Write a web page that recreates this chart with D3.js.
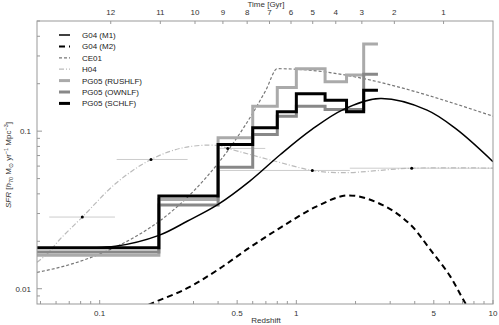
<!DOCTYPE html>
<html><head><meta charset="utf-8">
<script src="https://cdn.jsdelivr.net/npm/d3@7/dist/d3.min.js"></script>
<style>
body{margin:0;background:#fff;}
svg{display:block;font-family:"Liberation Sans",Arial,sans-serif;}
</style></head>
<body><svg id="c" width="499" height="325"></svg>
<script>
// ---------- data ----------
const binEdges = [0.01, 0.2, 0.4, 0.6, 0.8, 1.0, 1.4, 1.8, 2.2, 2.6];
const sfrRUSHLF = [0.0163, 0.0369, 0.0908, 0.144, 0.189, 0.249, 0.206, 0.227, 0.357];
const sfrOWNLF  = [0.0171, 0.0340, 0.0591, 0.0953, 0.1245, 0.144, 0.137, 0.137, 0.230];
const sfrSCHLF  = [0.0182, 0.0387, 0.0823, 0.105, 0.133, 0.173, 0.157, 0.133, 0.182];

const m1Z   = [0.048, 0.12, 0.2, 0.28, 0.4, 0.58, 0.83, 1.2, 1.73, 2.67, 4.62, 6.54, 10];
const m1SFR = [0.0182, 0.0186, 0.0218, 0.0269, 0.0343, 0.0482, 0.0711, 0.1025, 0.137, 0.161, 0.136, 0.1025, 0.064];

const m2Z   = [0.143, 0.184, 0.277, 0.394, 0.581, 0.856, 1.27, 1.83, 2.77, 3.79, 4.79, 6.05, 7.21, 8.11];
const m2SFR = [0.00704, 0.00807, 0.01004, 0.01306, 0.0183, 0.0250, 0.0333, 0.0391, 0.0338, 0.0256, 0.01776, 0.01202, 0.00815, 0.00657];

const ceZ   = [0.048, 0.07, 0.1, 0.15, 0.2, 0.3, 0.4, 0.5, 0.6, 0.7, 0.8, 10];
const ceSFR = [0.0127, 0.0142, 0.0166, 0.0212, 0.0267, 0.0416, 0.0625, 0.0912, 0.130, 0.182, 0.249, 0.1245];

const h04Z   = [0.048, 0.0548, 0.0628, 0.0816, 0.122, 0.1824, 0.266, 0.394, 0.448, 0.581, 0.836, 1.206, 1.734, 3.86, 10.5];
const h04SFR = [0.0147, 0.0169, 0.0206, 0.0285, 0.0471, 0.0661, 0.0785, 0.0812, 0.0777, 0.0711, 0.0630, 0.0563, 0.0545, 0.0582, 0.0582];

const ptZ    = [0.0816, 0.1824, 0.448, 1.206, 3.86];
const ptSFR  = [0.0285, 0.0661, 0.0777, 0.0563, 0.0582];
const ptZlo  = [0.0554, 0.122, 0.394, 0.394, 1.87];
const ptZhi  = [0.1196, 0.28, 0.695, 1.87, 12];

const xMajor = [0.1, 0.5, 1, 5, 10];
const xMajorLabels = ["0.1", "0.5", "1", "5", "10"];
const xMinor = [0.05,0.06,0.07,0.08,0.09,0.2,0.3,0.4,0.6,0.7,0.8,0.9,2,3,4,6,7,8,9];
const yMajor = [0.01, 0.1];
const yMajorLabels = ["0.01", "0.1"];
const yMinor = [0.009,0.02,0.03,0.04,0.05,0.06,0.07,0.08,0.09,0.2,0.3,0.4,0.5];
const ageTicks = [12, 11, 10, 9, 8, 7, 6, 5, 4, 3, 2, 1];

const legendLabels = ["G04 (M1)", "G04 (M2)", "CE01", "H04", "PG05 (RUSHLF)", "PG05 (OWNLF)", "PG05 (SCHLF)"];

// ---------- layout ----------
const svg = d3.select("#c");
const L = 37, R = 493, T = 21, B = 304;
const x = d3.scaleLog().domain([0.048, 10]).range([L, R]);
const y = d3.scaleLog().domain([0.008, 0.5]).range([B, T]);

// cosmic age -> redshift (flat LCDM, h=0.7, Om=0.3)
const tau = 2 * (977.8 / 70) / (3 * Math.sqrt(0.7));
const kk = Math.sqrt(0.7 / 0.3);
const ageToZ = t => Math.pow(kk / Math.sinh(t / tau), 2 / 3) - 1;

const styles = [
  {stroke:"#000", w:1.5, dash:null},
  {stroke:"#000", w:2, dash:"6,4"},
  {stroke:"#777", w:1.2, dash:"3,2"},
  {stroke:"#bbb", w:1.2, dash:"5,2,1,2"},
  {stroke:"#aaa", w:3, dash:null},
  {stroke:"#888", w:3, dash:null},
  {stroke:"#000", w:3, dash:null}
];

svg.append("defs").append("clipPath").attr("id","clip")
  .append("rect").attr("x",L).attr("y",T).attr("width",R-L).attr("height",B-T);

const g = svg.append("g").attr("clip-path","url(#clip)");

const smooth = d3.line().x(d=>x(d[0])).y(d=>y(d[1])).curve(d3.curveCatmullRom.alpha(0.5));
const step = d3.line().x(d=>x(d[0])).y(d=>y(d[1])).curve(d3.curveStepAfter);

function draw(path, data, st){
  g.append("path").attr("d", path(data)).attr("fill","none")
   .attr("stroke", st.stroke).attr("stroke-width", st.w)
   .attr("stroke-dasharray", st.dash).attr("stroke-linejoin","miter");
}

// H04 error bars
ptZ.forEach((z,i)=>{
  g.append("line").attr("x1",x(ptZlo[i])).attr("x2",x(ptZhi[i]))
   .attr("y1",y(ptSFR[i])).attr("y2",y(ptSFR[i]))
   .attr("stroke","#ccc").attr("stroke-width",1);
});

// CE01
draw(d3.line().x(d=>x(d[0])).y(d=>y(d[1])).curve(d3.curveMonotoneX), ceZ.map((z,i)=>[z,ceSFR[i]]), styles[2]);
// H04 curve
draw(smooth, h04Z.map((z,i)=>[z,h04SFR[i]]), styles[3]);
// G04 M2
draw(smooth, m2Z.map((z,i)=>[z,m2SFR[i]]), styles[1]);

// histograms
function stepData(vals){
  const d = vals.map((v,i)=>[binEdges[i], v]);
  d.push([binEdges[binEdges.length-1], vals[vals.length-1]]);
  return d;
}
draw(step, stepData(sfrRUSHLF), styles[4]);
draw(step, stepData(sfrOWNLF), styles[5]);
draw(step, stepData(sfrSCHLF), styles[6]);

// G04 M1
draw(smooth, m1Z.map((z,i)=>[z,m1SFR[i]]), styles[0]);

// H04 points
ptZ.forEach((z,i)=>{
  g.append("circle").attr("cx",x(z)).attr("cy",y(ptSFR[i])).attr("r",1.5).attr("fill","#000");
});

// ---------- frame & axes ----------
svg.append("rect").attr("x",L).attr("y",T).attr("width",R-L).attr("height",B-T)
  .attr("fill","none").attr("stroke","#999").attr("stroke-width",1);

const ax = svg.append("g").attr("stroke","#999").attr("stroke-width",1);
xMajor.forEach(v=>ax.append("line").attr("x1",x(v)).attr("x2",x(v)).attr("y1",B).attr("y2",B-4));
xMinor.forEach(v=>ax.append("line").attr("x1",x(v)).attr("x2",x(v)).attr("y1",B).attr("y2",B-3));
yMajor.forEach(v=>ax.append("line").attr("x1",L).attr("x2",L+5).attr("y1",y(v)).attr("y2",y(v)));
yMinor.forEach(v=>ax.append("line").attr("x1",L).attr("x2",L+3).attr("y1",y(v)).attr("y2",y(v)));
ageTicks.forEach(t=>ax.append("line").attr("x1",x(ageToZ(t))).attr("x2",x(ageToZ(t))).attr("y1",T).attr("y2",T+3));

const txt = svg.append("g").attr("fill","#333").attr("font-size","8px");
xMajor.forEach((v,i)=>txt.append("text").attr("x",x(v)).attr("y",316).attr("text-anchor","middle").text(xMajorLabels[i]));
yMajor.forEach((v,i)=>txt.append("text").attr("x",31).attr("y",y(v)+3).attr("text-anchor","end").text(yMajorLabels[i]));
ageTicks.forEach(t=>txt.append("text").attr("x",x(ageToZ(t))).attr("y",15).attr("text-anchor","middle").text(t));
txt.append("text").attr("x",266).attr("y",7).attr("text-anchor","middle").text("Time [Gyr]");
txt.append("text").attr("x",266).attr("y",323).attr("text-anchor","middle").text("Redshift");

const yl = txt.append("text").attr("transform","translate(11,165) rotate(-90)").attr("text-anchor","middle");
yl.append("tspan").attr("font-style","italic").text("SFR");
yl.append("tspan").text(" [");
yl.append("tspan").attr("font-style","italic").text("h");
yl.append("tspan").attr("font-size","5.5px").attr("dy",2).text("70");
yl.append("tspan").attr("dy",-2).text(" M");
yl.append("tspan").attr("font-size","5.5px").attr("dy",2).text("⊙");
yl.append("tspan").attr("dy",-2).text(" yr");
yl.append("tspan").attr("font-size","5.5px").attr("dy",-3).text("−1");
yl.append("tspan").attr("dy",3).text(" Mpc");
yl.append("tspan").attr("font-size","5.5px").attr("dy",-3).text("−3");
yl.append("tspan").attr("dy",3).text("]");

// ---------- legend ----------
const lg = svg.append("g");
legendLabels.forEach((lab,i)=>{
  const yy = 35 + i*11.4;
  const st = styles[i];
  lg.append("line").attr("x1",59).attr("x2",70).attr("y1",yy).attr("y2",yy)
    .attr("stroke",st.stroke).attr("stroke-width",st.w).attr("stroke-dasharray",st.dash);
  lg.append("text").attr("x",82).attr("y",yy+3).attr("font-size","8px").attr("fill","#222").text(lab);
});
</script></body></html>
